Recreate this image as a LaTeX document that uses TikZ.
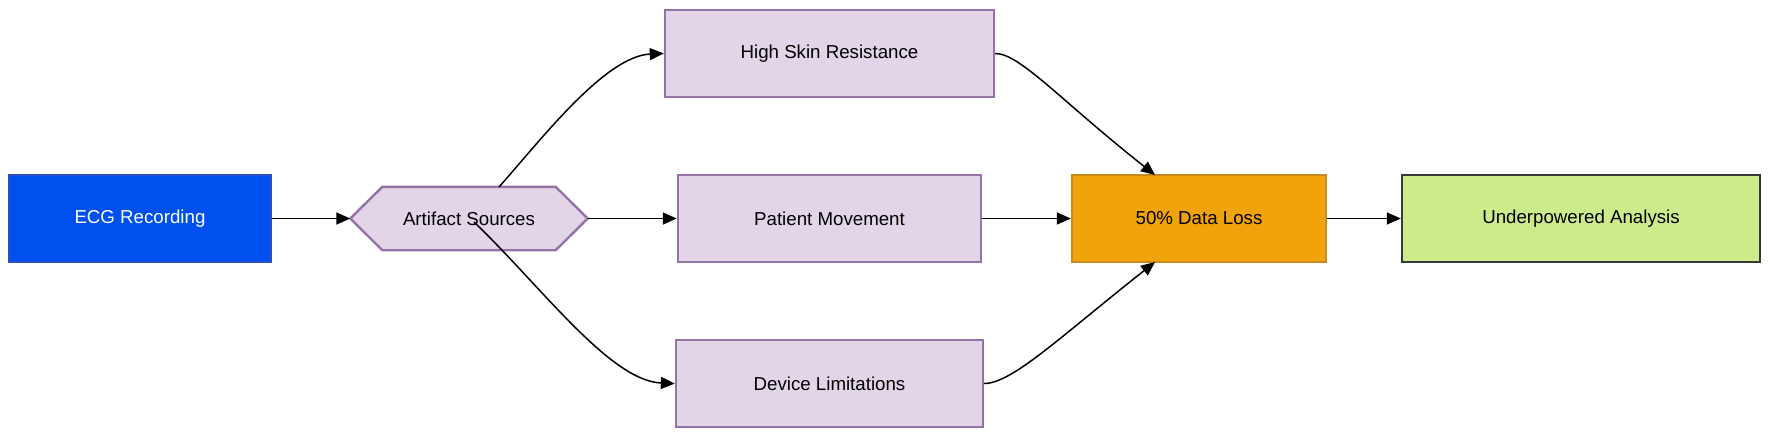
\documentclass[tikz,border=0pt]{standalone}
\usepackage{fontspec}
\setmainfont{Liberation Sans}
\usetikzlibrary{arrows.meta,backgrounds}
\definecolor{ecgfill}{HTML}{0050EF}
\definecolor{ecgdraw}{HTML}{2A4FC2}
\definecolor{purfill}{HTML}{E1D5E7}
\definecolor{purdraw}{HTML}{9673A6}
\definecolor{orfill}{HTML}{F0A30A}
\definecolor{ordraw}{HTML}{C98A1E}
\definecolor{grfill}{HTML}{CDEB8B}
\definecolor{grdraw}{HTML}{36393D}
\tikzset{
  box/.style={rectangle, inner sep=0pt, line width=2.4pt,
    font=\fontsize{18.7}{22}\selectfont},
  ecgbox/.style={box, fill=ecgfill, draw=ecgdraw, text=white},
  purbox/.style={box, fill=purfill, draw=purdraw},
  orbox/.style={box, fill=orfill, draw=ordraw},
  grbox/.style={box, fill=grfill, draw=grdraw},
  hexbox/.style={rectangle, inner sep=0pt, font=\fontsize{18.7}{22}\selectfont},
  hexshape/.style={fill=purfill, draw=purdraw, line width=2.4pt, line join=miter},
  conn/.style={line width=1.5pt, -{Triangle[length=14pt,width=12pt]}},
}
\begin{document}
\begin{tikzpicture}[x=1pt,y=-1pt]
\useasboundingbox (0,0) rectangle (1772,437);
% nodes
\node[ecgbox, minimum width=262pt, minimum height=87pt] (ecg) at (140,218.5) {ECG Recording};
\node[hexbox, minimum width=237pt, minimum height=63pt] (hex) at (469,218.5) {Artifact Sources};
\node[purbox, minimum width=329pt, minimum height=87pt] (skin) at (829.5,53.5) {High Skin Resistance};
\node[purbox, minimum width=303pt, minimum height=87pt] (move) at (829.5,218.5) {Patient Movement};
\node[purbox, minimum width=307pt, minimum height=87pt] (dev) at (829.5,383.5) {Device Limitations};
\node[orbox, minimum width=254pt, minimum height=87pt] (loss) at (1199,218.5) {50\% Data Loss};
\node[grbox, minimum width=358pt, minimum height=87pt] (under) at (1581,218.5) {Underpowered Analysis};
\coordinate (hexup) at (499,187);
\coordinate (hexdown) at (474,222);
\coordinate (lossin) at (1155,175);
\coordinate (lossout) at (1155,262);
% hexagon outline
\begin{scope}[on background layer]
\fill[white] (0,0) rectangle (1772,437);
\draw[hexshape] ([xshift=32pt]hex.north west) -- ([xshift=-32pt]hex.north east)
  -- (hex.east) -- ([xshift=-32pt]hex.south east) -- ([xshift=32pt]hex.south west)
  -- (hex.west) -- cycle;
\end{scope}
% connectors
\draw[conn] (ecg.east) -- (hex.west);
\draw[conn] (hex.east) -- (move.west);
\draw[conn] (hexup) .. controls (540,141) and (605,56) .. (skin.west);
\draw[conn] (hexdown) .. controls (540,285) and (610,381) .. (dev.west);
\draw[conn] (skin.east) .. controls (1020,53.5) and (1060,100) .. (lossin);
\draw[conn] (move.east) -- (loss.west);
\draw[conn] (dev.east) .. controls (1012,383.5) and (1060,337) .. (lossout);
\draw[conn] (loss.east) -- (under.west);
\end{tikzpicture}
\end{document}
